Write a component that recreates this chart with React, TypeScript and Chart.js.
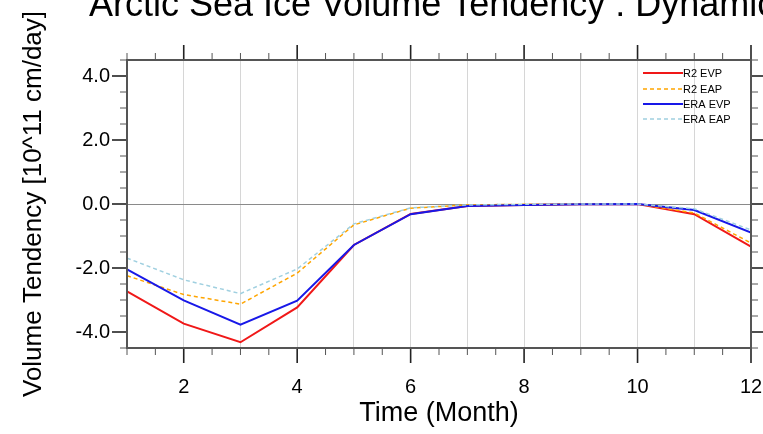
import React, { useEffect, useRef } from 'react';
import { Chart, registerables } from 'chart.js';

Chart.register(...registerables);

const months = [1, 2, 3, 4, 5, 6, 7, 8, 9, 10, 11, 12];
const r2Evp = [-2.73, -3.74, -4.32, -3.23, -1.28, -0.31, -0.06, -0.03, -0.01, 0.0, -0.32, -1.33];
const r2Eap = [-2.24, -2.83, -3.13, -2.16, -0.65, -0.13, -0.03, -0.01, 0.0, 0.0, -0.28, -1.22];
const eraEvp = [-2.04, -3.01, -3.77, -3.02, -1.28, -0.32, -0.06, -0.03, -0.01, 0.0, -0.19, -0.89];
const eraEap = [-1.69, -2.37, -2.8, -2.03, -0.62, -0.12, -0.03, -0.01, 0.0, 0.0, -0.15, -0.81];
const seriesLabels = ['R2 EVP', 'R2 EAP', 'ERA EVP', 'ERA EAP'];
const yTickValues = [-4, -2, 0, 2, 4];
const xLabelValues = [2, 4, 6, 8, 10, 12];
const titleText = 'Arctic Sea Ice Volume Tendency : Dynamic';
const yTitleText = 'Volume Tendency [10^11 cm/day]';
const xTitleText = 'Time (Month)';

const FONT = '"Liberation Sans", Arial, Helvetica, sans-serif';

const nclPlugin = {
  id: 'nclFrame',
  afterDatasetsDraw(chart: any) {
    const { ctx, chartArea: a, scales } = chart;
    const xs = scales.x;
    const ys = scales.y;
    ctx.save();
    const seg = (x1: number, y1: number, x2: number, y2: number, w: number, c: string) => {
      ctx.beginPath();
      ctx.lineWidth = w;
      ctx.strokeStyle = c;
      ctx.moveTo(x1, y1);
      ctx.lineTo(x2, y2);
      ctx.stroke();
    };
    // x ticks (top & bottom)
    for (let i = 0; i <= 22; i++) {
      const v = 1 + i * 0.5;
      const px = xs.getPixelForValue(v);
      const major = xLabelValues.indexOf(v) >= 0;
      const len = major ? 15 : 7;
      const w = major ? 1.6 : 1;
      const c = major ? '#222' : '#555';
      seg(px, a.bottom, px, a.bottom + len, w, c);
      seg(px, a.top, px, a.top - len, w, c);
    }
    // y ticks (left & right)
    for (let i = 0; i <= 18; i++) {
      const v = -4.5 + i * 0.5;
      const py = ys.getPixelForValue(v);
      const major = yTickValues.indexOf(v) >= 0;
      const len = major ? 15 : 7;
      const w = major ? 1.6 : 1;
      const c = major ? '#222' : '#555';
      seg(a.left, py, a.left - len, py, w, c);
      seg(a.right, py, a.right + len, py, w, c);
    }
    // frame
    ctx.lineWidth = 2;
    ctx.strokeStyle = '#555';
    ctx.strokeRect(a.left, a.top, a.right - a.left, a.bottom - a.top);

    // legend
    const rowsY = [73, 89, 104, 119];
    chart.data.datasets.forEach((ds: any, i: number) => {
      const yy = rowsY[i];
      ctx.beginPath();
      ctx.setLineDash(ds.borderDash || []);
      ctx.lineWidth = ds.borderWidth;
      ctx.strokeStyle = ds.borderColor;
      ctx.moveTo(643, yy);
      ctx.lineTo(683, yy);
      ctx.stroke();
      ctx.setLineDash([]);
      ctx.fillStyle = '#000';
      ctx.font = `11px ${FONT}`;
      ctx.textAlign = 'left';
      ctx.textBaseline = 'middle';
      ctx.fillText(ds.label, 683, yy + 0.5);
    });

    // main title
    ctx.fillStyle = '#000';
    ctx.font = `36px ${FONT}`;
    ctx.textAlign = 'left';
    ctx.textBaseline = 'alphabetic';
    ctx.fillText(titleText, 89, 16);
    ctx.restore();
  },
};

export default function App() {
  const ref = useRef<HTMLCanvasElement | null>(null);
  useEffect(() => {
    document.body.style.margin = '0';
    document.body.style.overflow = 'hidden';
    const canvas = ref.current;
    if (!canvas) return;
    const mk = (label: string, data: number[], color: string, dash: number[] | undefined, width: number, order: number) => ({
      label,
      data: months.map((m, i) => ({ x: m, y: data[i] })),
      borderColor: color,
      backgroundColor: color,
      borderWidth: width,
      borderDash: dash,
      pointRadius: 0,
      tension: 0,
      fill: false,
      order,
    });
    const chart = new Chart(canvas, {
      type: 'line',
      data: {
        datasets: [
          mk(seriesLabels[0], r2Evp, '#f01818', undefined, 2, 4),
          mk(seriesLabels[1], r2Eap, '#ffa500', [4, 3], 1.5, 3),
          mk(seriesLabels[2], eraEvp, '#1818e8', undefined, 2, 2),
          mk(seriesLabels[3], eraEap, '#a0d0e0', [4, 3], 1.5, 1),
        ],
      },
      options: {
        responsive: false,
        animation: false,
        devicePixelRatio: 1,
        layout: { padding: { left: 0, right: 12, top: 60, bottom: 0 } },
        plugins: {
          legend: { display: false },
          tooltip: { enabled: false },
          title: { display: false },
        },
        scales: {
          x: {
            type: 'linear',
            min: 1,
            max: 12,
            afterBuildTicks: (s: any) => {
              s.ticks = months.map((v) => ({ value: v }));
            },
            afterFit: (s: any) => {
              s.height = 86;
              s.paddingLeft = 0;
              s.paddingRight = 0;
            },
            grid: { color: '#d6d6d6', lineWidth: 1, drawTicks: false },
            border: { display: false },
            ticks: {
              padding: 27,
              color: '#000',
              autoSkip: false,
              maxRotation: 0,
              font: { family: FONT, size: 20 },
              callback: (v: any) => (xLabelValues.indexOf(Number(v)) >= 0 ? String(v) : ''),
            },
            title: {
              display: true,
              text: xTitleText,
              color: '#000',
              font: { family: FONT, size: 27 },
              padding: { top: 0, bottom: 4 },
            },
          },
          y: {
            type: 'linear',
            min: -4.5,
            max: 4.5,
            afterBuildTicks: (s: any) => {
              s.ticks = yTickValues.map((v) => ({ value: v }));
            },
            afterFit: (s: any) => {
              s.width = 127;
            },
            grid: {
              drawTicks: false,
              lineWidth: 1,
              color: (c: any) => (c.tick && c.tick.value === 0 ? '#8a8a8a' : 'rgba(0,0,0,0)'),
            },
            border: { display: false },
            ticks: {
              padding: 17,
              color: '#000',
              font: { family: FONT, size: 20 },
              callback: (v: any) => Number(v).toFixed(1),
            },
            title: {
              display: true,
              text: yTitleText,
              color: '#000',
              font: { family: FONT, size: 26 },
              padding: { top: 18, bottom: 0 },
            },
          },
        },
      },
      plugins: [nclPlugin],
    } as any);
    return () => chart.destroy();
  }, []);
  return (
    <div style={{ width: 763, height: 434, overflow: 'hidden', background: '#fff' }}>
      <canvas ref={ref} width={763} height={434} style={{ display: 'block' }} />
    </div>
  );
}
